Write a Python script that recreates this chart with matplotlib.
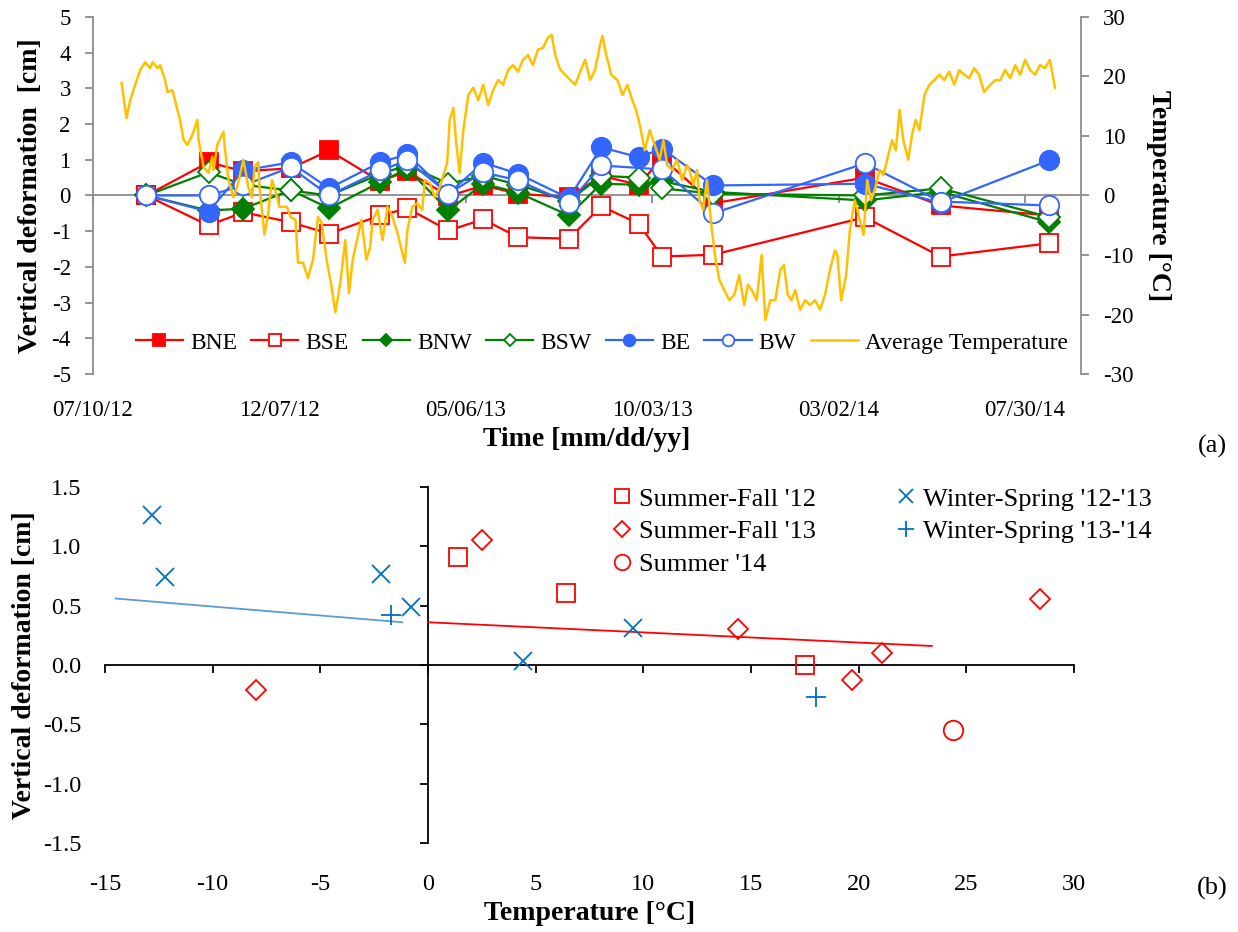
import numpy as np
import pandas as pd
import matplotlib
matplotlib.use('Agg')
import matplotlib.pyplot as plt
import matplotlib.dates as mdates

plt.rcParams['font.family'] = ['Liberation Serif', 'DejaVu Serif']
plt.rcParams['axes.unicode_minus'] = False

# ---------------- survey data (panel a) ----------------
start = pd.Timestamp('2012-07-10')
survey_dates = pd.to_datetime(['2012-08-22', '2012-10-11', '2012-11-08', '2012-12-16', '2013-01-16',
                               '2013-02-26', '2013-03-20', '2013-04-22', '2013-05-20', '2013-06-17',
                               '2013-07-28', '2013-08-23', '2013-09-22', '2013-10-11', '2013-11-21',
                               '2014-03-23', '2014-05-23', '2014-08-18'])
bne = [0, 0.93, 0.68, 0.76, 1.26, 0.40, 0.68, -0.02, 0.28, 0.05, -0.05, 0.55, 0.30, 1.05, -0.22, 0.50, -0.28, -0.56]
bse = [0, -0.84, -0.47, -0.75, -1.07, -0.56, -0.36, -0.98, -0.67, -1.17, -1.21, -0.30, -0.79, -1.71, -1.66, -0.61, -1.71, -1.34]
bnw = [0, -0.42, -0.37, 0.15, -0.36, 0.37, 0.75, -0.42, 0.33, 0.08, -0.56, 0.33, 0.30, 0.40, 0.10, -0.14, 0.10, -0.75]
bsw = [0, 0.65, 0.30, 0.14, 0.00, 0.60, 0.85, 0.33, 0.55, 0.30, -0.15, 0.55, 0.50, 0.20, 0.05, 0.00, 0.20, -0.60]
be = [0, -0.45, 0.70, 0.93, 0.20, 0.93, 1.15, 0.05, 0.92, 0.61, -0.08, 1.35, 1.07, 1.31, 0.28, 0.33, -0.20, 0.98]
bw = [0, 0.00, 0.28, 0.79, 0.00, 0.70, 0.98, 0.05, 0.65, 0.42, -0.21, 0.84, np.nan, 0.73, -0.50, 0.90, -0.17, -0.28]

# daily average temperature (days after 07/10/12, deg C)
temp_day = [23, 27, 30, 34, 38, 42, 46, 48, 52, 54,
            58, 60, 64, 67, 70, 73, 76, 80, 84, 85,
            89, 93, 96, 97, 100, 105, 106, 109, 113, 116,
            121, 125, 128, 130, 133, 134, 138, 141, 144, 146,
            150, 156, 159, 163, 165, 169, 173, 177, 181, 184,
            188, 192, 195, 199, 203, 206, 209, 213, 216, 220,
            223, 225, 229, 233, 237, 241, 245, 249, 251, 253,
            257, 261, 265, 267, 271, 275, 279, 285, 287, 290,
            292, 295, 298, 302, 306, 310, 314, 318, 322, 326,
            330, 334, 338, 342, 346, 350, 354, 358, 362, 366,
            369, 372, 376, 380, 384, 388, 392, 396, 400, 404,
            408, 410, 413, 417, 422, 426, 430, 434, 437, 440,
            444, 448, 452, 456, 459, 462, 466, 470, 474, 478,
            480, 483, 486, 488, 491, 494, 498, 501, 504, 508,
            512, 516, 520, 524, 527, 530, 534, 538, 541, 545,
            549, 553, 556, 559, 562, 565, 569, 573, 577, 581,
            585, 589, 593, 597, 599, 602, 606, 609, 613, 617,
            620, 623, 626, 629, 633, 636, 639, 643, 646, 649,
            652, 656, 659, 662, 665, 669, 673, 677, 681, 685,
            689, 693, 697, 701, 705, 709, 713, 717, 722, 726,
            730, 734, 738, 742, 746, 750, 754, 758, 762, 766,
            770, 774]
temp_c = [18.9, 13.0, 16.0, 18.6, 21.1, 22.4, 21.4, 22.4, 21.4, 21.9,
          19.4, 17.4, 17.7, 15.2, 12.7, 9.3, 8.5, 10.2, 12.7, 9.3,
          4.8, 3.8, 6.5, 4.3, 8.5, 10.7, 8.2, 2.6, -0.3, 1.4,
          6.0, 1.4, -0.3, 4.8, 5.6, 1.4, -6.6, -2.9, 2.6, 1.4,
          -1.9, -1.9, -3.6, -4.1, -11.3, -11.3, -13.9, -10.8, -3.6, -4.6,
          -10.8, -15.4, -19.6, -14.7, -7.5, -16.4, -10.8, -7.0, -4.1, -10.8,
          -8.7, -4.1, -2.4, -7.5, -1.9, -3.6, -6.3, -9.7, -11.3, -5.8,
          -1.9, -1.3, -2.4, 2.6, 2.1, -0.3, 1.4, 5.5, 12.7, 14.7,
          9.3, 3.8, 11.0, 16.9, 18.1, 16.0, 18.6, 15.2, 17.7, 19.4,
          18.6, 21.1, 21.9, 20.8, 22.8, 23.6, 21.9, 24.5, 24.8, 26.5,
          27.0, 23.6, 21.1, 20.3, 19.4, 18.6, 20.8, 22.8, 19.4, 21.1,
          25.3, 26.8, 23.6, 20.3, 19.4, 16.9, 18.6, 16.0, 14.4, 11.8,
          7.6, 11.0, 8.5, 6.0, 9.3, 5.1, 4.3, 6.0, 2.6, 5.1,
          4.3, 1.8, 4.3, -0.8, -2.4, 2.6, -5.8, -10.8, -14.2, -15.9,
          -17.6, -16.7, -13.4, -18.4, -15.0, -15.9, -17.6, -10.0, -20.9, -17.6,
          -17.6, -12.5, -11.7, -16.7, -17.6, -15.9, -19.2, -17.6, -18.4, -17.6,
          -19.2, -16.7, -12.5, -9.2, -10.0, -17.6, -13.4, -5.8, -0.8, -4.1,
          -6.6, 2.6, -0.8, 0.9, 4.3, 3.4, 6.0, 9.3, 7.6, 14.4,
          9.3, 6.0, 10.2, 12.7, 11.0, 16.9, 18.6, 19.4, 20.3, 19.4,
          20.8, 18.6, 21.1, 20.3, 19.7, 21.4, 20.3, 17.4, 18.6, 19.4,
          19.4, 21.1, 19.7, 21.9, 20.3, 22.8, 21.1, 20.3, 21.9, 21.4,
          22.8, 18.1]
temp_dates = start + pd.to_timedelta(temp_day, unit='D')

date_ticks = pd.to_datetime(['2012-07-10', '2012-12-07', '2013-05-06',
                             '2013-10-03', '2014-03-02', '2014-07-30'])

# ---------------- deformation vs temperature (panel b) ----------------
sf12_t = [1.4, 6.4, 17.5]
sf12_d = [0.91, 0.61, 0.00]
sf13_t = [2.5, -8.0, 14.4, 19.7, 21.1, 28.4]
sf13_d = [1.05, -0.21, 0.30, -0.13, 0.10, 0.56]
s14_t = [24.4]
s14_d = [-0.55]
ws1213_t = [-12.8, -12.2, -2.2, -0.8, 4.4, 9.5]
ws1213_d = [1.26, 0.74, 0.77, 0.49, 0.03, 0.31]
ws1314_t = [-1.7, 18.0]
ws1314_d = [0.42, -0.27]
trend_cold_t = [-14.5, -1.2]
trend_cold_d = [0.56, 0.36]
trend_warm_t = [0.0, 23.4]
trend_warm_d = [0.36, 0.16]

RED = '#ff0000'
GREEN = '#008000'
BLUE = '#3366ff'
GOLD = '#ffc000'
GRAY = '#8c8c8c'
XBLUE = '#0070c0'
TICK_FS = 16.5
TITLE_FS = 20

fig = plt.figure(figsize=(12.38, 9.32), dpi=100)

# ================= panel (a) =================
ax = fig.add_axes([0.0751, 0.5987, 0.7981, 0.3831])
series = [
    ('BNE', bne, RED, 's', RED, 13.5),
    ('BSE', bse, RED, 's', 'white', 13.5),
    ('BNW', bnw, GREEN, 'D', GREEN, 11),
    ('BSW', bsw, GREEN, 'D', 'white', 11),
    ('BE', be, BLUE, 'o', BLUE, 14),
    ('BW', bw, BLUE, 'o', 'white', 14),
]
handles = []
for name, vals, col, mk, fc, ms in series:
    s = pd.Series(vals, index=survey_dates).dropna()
    h, = ax.plot(s.index, s.values, color=col, lw=1.6, marker=mk, ms=ms,
                 mfc=fc, mec=col, mew=1.3, label=name)
    handles.append(h)

ax.set_xlim(start, start + pd.Timedelta(days=795))
ax.set_ylim(-5, 5)
ax.set_yticks(range(-5, 6))
ax.set_xticks(date_ticks)
ax.xaxis.set_major_formatter(mdates.DateFormatter('%m/%d/%y'))
for side in ['top', 'right', 'bottom']:
    ax.spines[side].set_visible(False)
ax.spines['left'].set_color(GRAY)
ax.spines['left'].set_linewidth(1.3)
ax.tick_params(axis='y', direction='out', length=6, width=1.3, color=GRAY,
               labelsize=TICK_FS, pad=10)
ax.tick_params(axis='x', length=0, labelsize=TICK_FS, pad=19)
ax.set_xlabel('Time [mm/dd/yy]', fontsize=TITLE_FS, fontweight='bold', labelpad=4)
ax.set_ylabel('Vertical deformation  [cm]', fontsize=TITLE_FS, fontweight='bold', labelpad=6)

# horizontal axis drawn through zero
zero_ax = ax.secondary_xaxis(0.5)
zero_ax.set_alignment('bottom')
zero_ax.set_xticks(mdates.date2num(date_ticks))
zero_ax.tick_params(axis='x', direction='out', length=6, width=1.3, color=GRAY,
                    labelbottom=False, labeltop=False)
zero_ax.spines['bottom'].set_color(GRAY)
zero_ax.spines['bottom'].set_linewidth(1.3)
zero_ax.set_zorder(0)

ax2 = ax.twinx()
h_t, = ax2.plot(temp_dates, temp_c, color=GOLD, lw=1.8, label='Average Temperature')
handles.append(h_t)
ax2.set_ylim(-30, 30)
ax2.set_yticks(range(-30, 31, 10))
for side in ['top', 'left', 'bottom']:
    ax2.spines[side].set_visible(False)
ax2.spines['right'].set_color(GRAY)
ax2.spines['right'].set_linewidth(1.3)
ax2.tick_params(axis='y', direction='out', length=6, width=1.3, color=GRAY,
                labelsize=TICK_FS, pad=10)
ax2.set_ylabel('Temperature [°C]', fontsize=TITLE_FS, fontweight='bold', rotation=270,
               labelpad=27)

ax2.legend(handles=handles, loc='center', bbox_to_anchor=(0.515, 0.087), ncol=7,
           frameon=False, fontsize=17, markerscale=0.6, handlelength=2.0,
           handletextpad=0.3, columnspacing=0.6, borderaxespad=0)

fig.text(0.979, 0.521, '(a)', fontsize=19, ha='center', va='center')

# ================= panel (b) =================
bx = fig.add_axes([0.0848, 0.0955, 0.7827, 0.382])
bx.plot(trend_cold_t, trend_cold_d, color='#5b9bd5', lw=1.3)
bx.plot(trend_warm_t, trend_warm_d, color=RED, lw=1.3)
bx.plot(sf12_t, sf12_d, ls='none', marker='s', ms=13, mfc='none', mec=RED, mew=1.3,
        label="Summer-Fall '12")
bx.plot(sf13_t, sf13_d, ls='none', marker='D', ms=10, mfc='none', mec=RED, mew=1.3,
        label="Summer-Fall '13")
bx.plot(s14_t, s14_d, ls='none', marker='o', ms=14, mfc='none', mec=RED, mew=1.3,
        label="Summer '14")
bx.plot(ws1213_t, ws1213_d, ls='none', marker='x', ms=13, mec=XBLUE, mew=1.3,
        label="Winter-Spring '12-'13")
bx.plot(ws1314_t, ws1314_d, ls='none', marker='+', ms=14, mec=XBLUE, mew=1.3,
        label="Winter-Spring '13-'14")

bx.set_xlim(-15, 30)
bx.set_ylim(-1.5, 1.5)
bx.set_xticks(range(-15, 31, 5))
bx.set_yticks(np.arange(-1.5, 1.51, 0.5))
bx.yaxis.set_major_formatter(matplotlib.ticker.FormatStrFormatter('%.1f'))
for side in bx.spines:
    bx.spines[side].set_visible(False)
bx.tick_params(axis='both', length=0, labelsize=17.5)
bx.tick_params(axis='y', pad=17)
bx.tick_params(axis='x', pad=22)
bx.set_xlabel('Temperature [°C]', fontsize=TITLE_FS, fontweight='bold', labelpad=5)
bx.set_ylabel('Vertical deformation [cm]', fontsize=TITLE_FS, fontweight='bold', labelpad=4)

cross_x = bx.secondary_xaxis(0.5)
cross_x.set_alignment('bottom')
cross_x.set_xticks(range(-15, 31, 5))
cross_x.tick_params(axis='x', direction='out', length=6, width=1.3, color='black',
                    labelbottom=False, labeltop=False)
cross_x.spines['bottom'].set_linewidth(1.3)

cross_y = bx.secondary_yaxis(1 / 3)
cross_y.set_alignment('left')
cross_y.set_yticks(np.arange(-1.5, 1.51, 0.5))
cross_y.tick_params(axis='y', direction='out', length=6, width=1.3, color='black',
                    labelleft=False, labelright=False)
cross_y.spines['left'].set_linewidth(1.3)

bx.legend(loc='upper left', bbox_to_anchor=(0.512, 1.029), ncol=2, frameon=False,
          fontsize=19, markerscale=0.8, handlelength=0.8, handletextpad=0.25,
          labelspacing=0.35, columnspacing=3.0, borderaxespad=0)

fig.text(0.979, 0.047, '(b)', fontsize=19, ha='center', va='center')

fig.savefig('out.png', dpi=100)
